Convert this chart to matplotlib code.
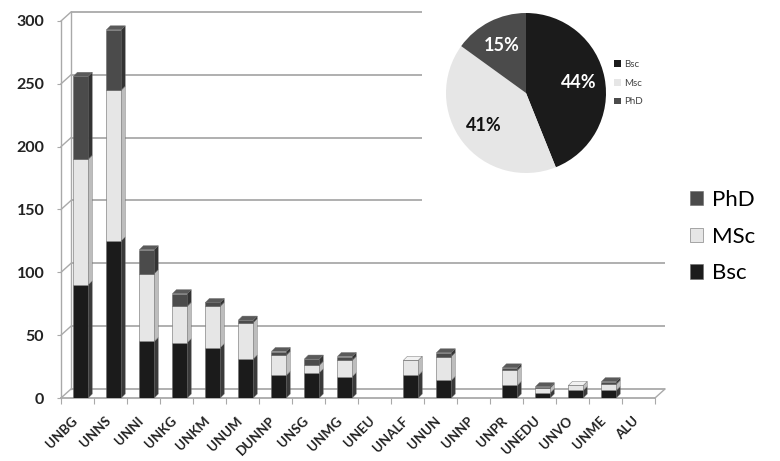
import matplotlib
matplotlib.use('Agg')
import matplotlib.pyplot as plt
from matplotlib.patches import Polygon
from matplotlib.transforms import ScaledTranslation
import numpy as np

# ---------------- data ----------------
categories = ['UNBG', 'UNNS', 'UNNI', 'UNKG', 'UNKM', 'UNUM', 'DUNNP', 'UNSG', 'UNMG',
              'UNEU', 'UNALF', 'UNUN', 'UNNP', 'UNPR', 'UNEDU', 'UNVO', 'UNME', 'ALU']
bsc = [90, 125, 45, 44, 40, 31, 18, 20, 17, 0, 18, 14, 0, 10, 4, 6, 6, 0]
msc = [100, 120, 54, 29, 33, 29, 16, 6, 13, 0, 12, 19, 0, 12, 4, 4, 5, 0]
phd = [66, 48, 19, 10, 3, 2, 3, 5, 3, 0, 0, 3, 0, 2, 1, 0, 2, 0]
series_names = ['Bsc', 'MSc', 'PhD']
pie_labels = ['Bsc', 'Msc', 'PhD']
y_ticks = [0, 50, 100, 150, 200, 250, 300]

plt.rcParams['font.family'] = ['Lato', 'DejaVu Sans']

W, H = 780, 461
fig = plt.figure(figsize=(7.8, 4.61), dpi=100)
fig.patch.set_facecolor('white')


def px(x0, y0, x1, y1):
    return [x0 / W, 1 - y1 / H, (x1 - x0) / W, (y1 - y0) / H]


ax_l, ax_t, ax_r, ax_b = 61, 21, 655, 398
ax = fig.add_axes(px(ax_l, ax_t, ax_r, ax_b))
n = len(categories)
ax.set_xlim(-0.5, n - 0.5)
ax.set_ylim(0, 300)
ax.patch.set_alpha(0)

ux = (ax_r - ax_l) / n          # px per x unit
uy = (ax_b - ax_t) / 300.0      # px per y unit

grid_c = '#a9a9a9'
# back-wall offsets (3D look)
bx, by = 10 / ux, 9 / uy
for v in y_ticks:
    ax.plot([-0.5 + bx, n - 0.5 + bx], [v + by, v + by], color=grid_c, lw=1.3,
            clip_on=False, zorder=1, solid_capstyle='butt')
    ax.plot([-0.5, -0.5 + bx], [v, v + by], color=grid_c, lw=1.0, clip_on=False, zorder=1)
ax.plot([-0.5 + bx, -0.5 + bx], [by, 300 + by], color=grid_c, lw=1.0, clip_on=False, zorder=1)
ax.plot([-0.5, n - 0.5], [0, 0], color=grid_c, lw=1.3, clip_on=False, zorder=1)
ax.plot([n - 0.5, n - 0.5 + bx], [0, by], color=grid_c, lw=1.0, clip_on=False, zorder=1)

# bars with small 3D side/top faces
x = np.arange(n)
xpos = x + 0.1
bw = 0.45
dxd, dyd = 4 / ux, 4 / uy
styles = [('#1b1b1b', '#3a3a3a', '#2c2c2c'),
          ('#e6e6e6', '#bdbdbd', '#f2f2f2'),
          ('#4b4b4b', '#333333', '#5a5a5a')]
bottom = np.zeros(n)
containers = []
top_color = [None] * n
for vals, name, (front, side, top) in zip([bsc, msc, phd], series_names, styles):
    vals = np.array(vals, dtype=float)
    c = ax.bar(xpos, vals, width=bw, bottom=bottom, color=front, edgecolor='#6a6a6a',
               linewidth=0.4, zorder=3, label=name)
    containers.append(c)
    for i in range(n):
        if vals[i] > 0:
            xr = xpos[i] + bw / 2
            b0, b1 = bottom[i], bottom[i] + vals[i]
            ax.add_patch(Polygon([(xr, b0), (xr + dxd, b0 + dyd), (xr + dxd, b1 + dyd), (xr, b1)],
                                 closed=True, facecolor=side, edgecolor='#6a6a6a', lw=0.3,
                                 zorder=3, clip_on=False))
            top_color[i] = top
    bottom = bottom + vals
for i in range(n):
    if top_color[i] is not None:
        xl, xr, t = xpos[i] - bw / 2, xpos[i] + bw / 2, bottom[i]
        ax.add_patch(Polygon([(xl, t), (xl + dxd, t + dyd), (xr + dxd, t + dyd), (xr, t)],
                             closed=True, facecolor=top_color[i], edgecolor='#6a6a6a', lw=0.3,
                             zorder=3, clip_on=False))

# axes styling
for s in ['top', 'right', 'bottom']:
    ax.spines[s].set_visible(False)
ax.spines['left'].set_color(grid_c)
ax.spines['left'].set_linewidth(1.0)
ax.set_yticks(y_ticks)
ax.set_yticklabels([str(v) for v in y_ticks])
ax.tick_params(axis='y', length=3, color=grid_c, pad=9, labelsize=11.5, labelcolor='#222222')
for lbl in ax.get_yticklabels():
    lbl.set_fontweight('bold')

ax.set_xticks(np.arange(-0.5, n, 1.0))
ax.set_xticklabels([])
ax.tick_params(axis='x', which='major', length=4, color=grid_c, direction='out')
ax.set_xticks(xpos, minor=True)
ax.set_xticklabels(categories, minor=True, rotation=45, ha='right', va='center',
                   rotation_mode='anchor', fontsize=9.5, fontweight='bold', color='#222222')
ax.tick_params(axis='x', which='minor', length=0, pad=15)
off = ScaledTranslation(-0.05, 0, fig.dpi_scale_trans)
for lbl in ax.get_xticklabels(minor=True):
    lbl.set_transform(lbl.get_transform() + off)

# ---------------- pie inset ----------------
ax_pie = fig.add_axes(px(422, 0, 678, 210))
ax_pie.set_facecolor('white')
totals = [sum(bsc), sum(msc), sum(phd)]
wedges, texts, autotexts = ax_pie.pie(
    totals, colors=['#1b1b1b', '#e6e6e6', '#4b4b4b'], startangle=90, counterclock=False,
    center=(526, 117), radius=80, autopct=lambda p: f'{p:.0f}%', pctdistance=0.67,
    frame=True, textprops=dict(fontsize=13, fontweight='bold'))
for t, col in zip(autotexts, ['white', '#111111', 'white']):
    t.set_color(col)
ax_pie.set_xlim(422, 678)
ax_pie.set_ylim(0, 210)
ax_pie.set_xticks([])
ax_pie.set_yticks([])
for s in ax_pie.spines.values():
    s.set_visible(False)
ax_pie.legend(wedges, pie_labels, loc='upper left', bbox_to_anchor=((614 - 422) / 256, 1 - 60 / 210),
              fontsize=7, frameon=False, handlelength=0.7, handleheight=0.7, handletextpad=0.3,
              labelspacing=1.0, borderpad=0, borderaxespad=0, labelcolor='#444444')

# ---------------- main legend ----------------
fig.legend([containers[2], containers[1], containers[0]], ['PhD', 'MSc', 'Bsc'],
           loc='upper left', bbox_to_anchor=(690 / W, 1 - 190 / H), fontsize=16, frameon=False,
           handlelength=0.6, handleheight=0.6, handletextpad=0.4, labelspacing=0.75,
           borderpad=0, borderaxespad=0)

fig.savefig('out.png', dpi=100, facecolor='white')
